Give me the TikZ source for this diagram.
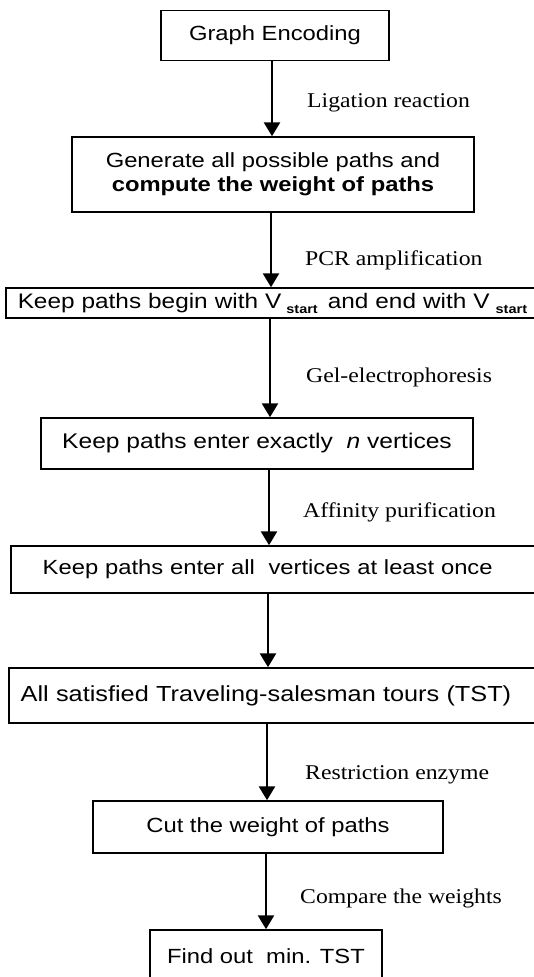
\documentclass[tikz,border=0pt]{standalone}
\usepackage{fontspec}
\usetikzlibrary{arrows.meta}
\newfontfamily\boxfont[FakeStretch=1.16]{Liberation Sans}
\newfontfamily\labfont[FakeStretch=1.13]{Liberation Serif}
\newcommand{\vsub}{\raisebox{-5pt}{\fontsize{12.5}{12.5}\selectfont\bfseries start}}
\begin{document}
\begin{tikzpicture}[x=1pt,y=-1pt,
  box/.style={draw,line width=1.5pt,inner sep=0pt,font=\boxfont\fontsize{20.5}{24}\selectfont,align=center},
  lbox/.style={box,anchor=west,align=left,inner xsep=0pt},
  lab/.style={anchor=base west,inner sep=0pt,font=\labfont\fontsize{21}{25}\selectfont},
  arr/.style={line width=2.7pt,-{Triangle[width=16pt,length=14pt]}}]
\useasboundingbox (0,0) rectangle (534,977);
\clip (0,0) rectangle (534,977);

\node[box,minimum width=228pt,minimum height=50pt] (b1) at (275,35.5) {Graph Encoding};
\node[box,minimum width=402pt,minimum height=75pt] (b2) at (273,174.5) {Generate all possible paths and\\{\bfseries compute the weight of paths}};
\node[lbox,text width=540pt,minimum height=30pt,font=\boxfont\fontsize{21}{24}\selectfont] (b3) at (5,303) {\hspace*{12pt}\mbox{Keep paths begin with V\hspace{5pt}\vsub\hspace{3pt} and end with V\hspace{6pt}\vsub}};
\node[box,minimum width=432pt,minimum height=51pt,font=\boxfont\fontsize{21.2}{24}\selectfont] (b4) at (257,443.5) {Keep paths enter exactly \ \textit{n} vertices};
\node[lbox,text width=530pt,minimum height=47pt] (b5) at (10,569.5) {\hspace*{32pt}\mbox{Keep paths enter all \ vertices at least once}};
\node[lbox,text width=530pt,minimum height=55pt,font=\boxfont\fontsize{21.8}{24}\selectfont] (b6) at (8,695.5) {\hspace*{12pt}\mbox{All satisfied Traveling-salesman tours (TST)}};
\node[box,minimum width=350pt,minimum height=52pt] (b7) at (268,827) {Cut the weight of paths};
\node[box,minimum width=232pt,minimum height=52pt] (b8) at (266,956) {Find out \ min. TST};

\draw[arr] (b1.south -| 272,0) -- (b2.north -| 272,0);
\draw[arr] (b2.south -| 271,0) -- (b3.north -| 271,0);
\draw[arr] (b3.south -| 270,0) -- (b4.north -| 270,0);
\draw[arr] (b4.south -| 269,0) -- (b5.north -| 269,0);
\draw[arr] (b5.south -| 268,0) -- (b6.north -| 268,0);
\draw[arr] (b6.south -| 267,0) -- (b7.north -| 267,0);
\draw[arr] (b7.south -| 266,0) -- (b8.north -| 266,0);

\node[lab] (l1) at (307,107) {Ligation reaction};
\node[lab] (l2) at (305,265) {PCR amplification};
\node[lab] (l3) at (306,382) {Gel-electrophoresis};
\node[lab] (l4) at (303,517) {Affinity purification};
\node[lab] (l5) at (305,779) {Restriction enzyme};
\node[lab] (l6) at (300,903) {Compare the weights};
\end{tikzpicture}
\end{document}
